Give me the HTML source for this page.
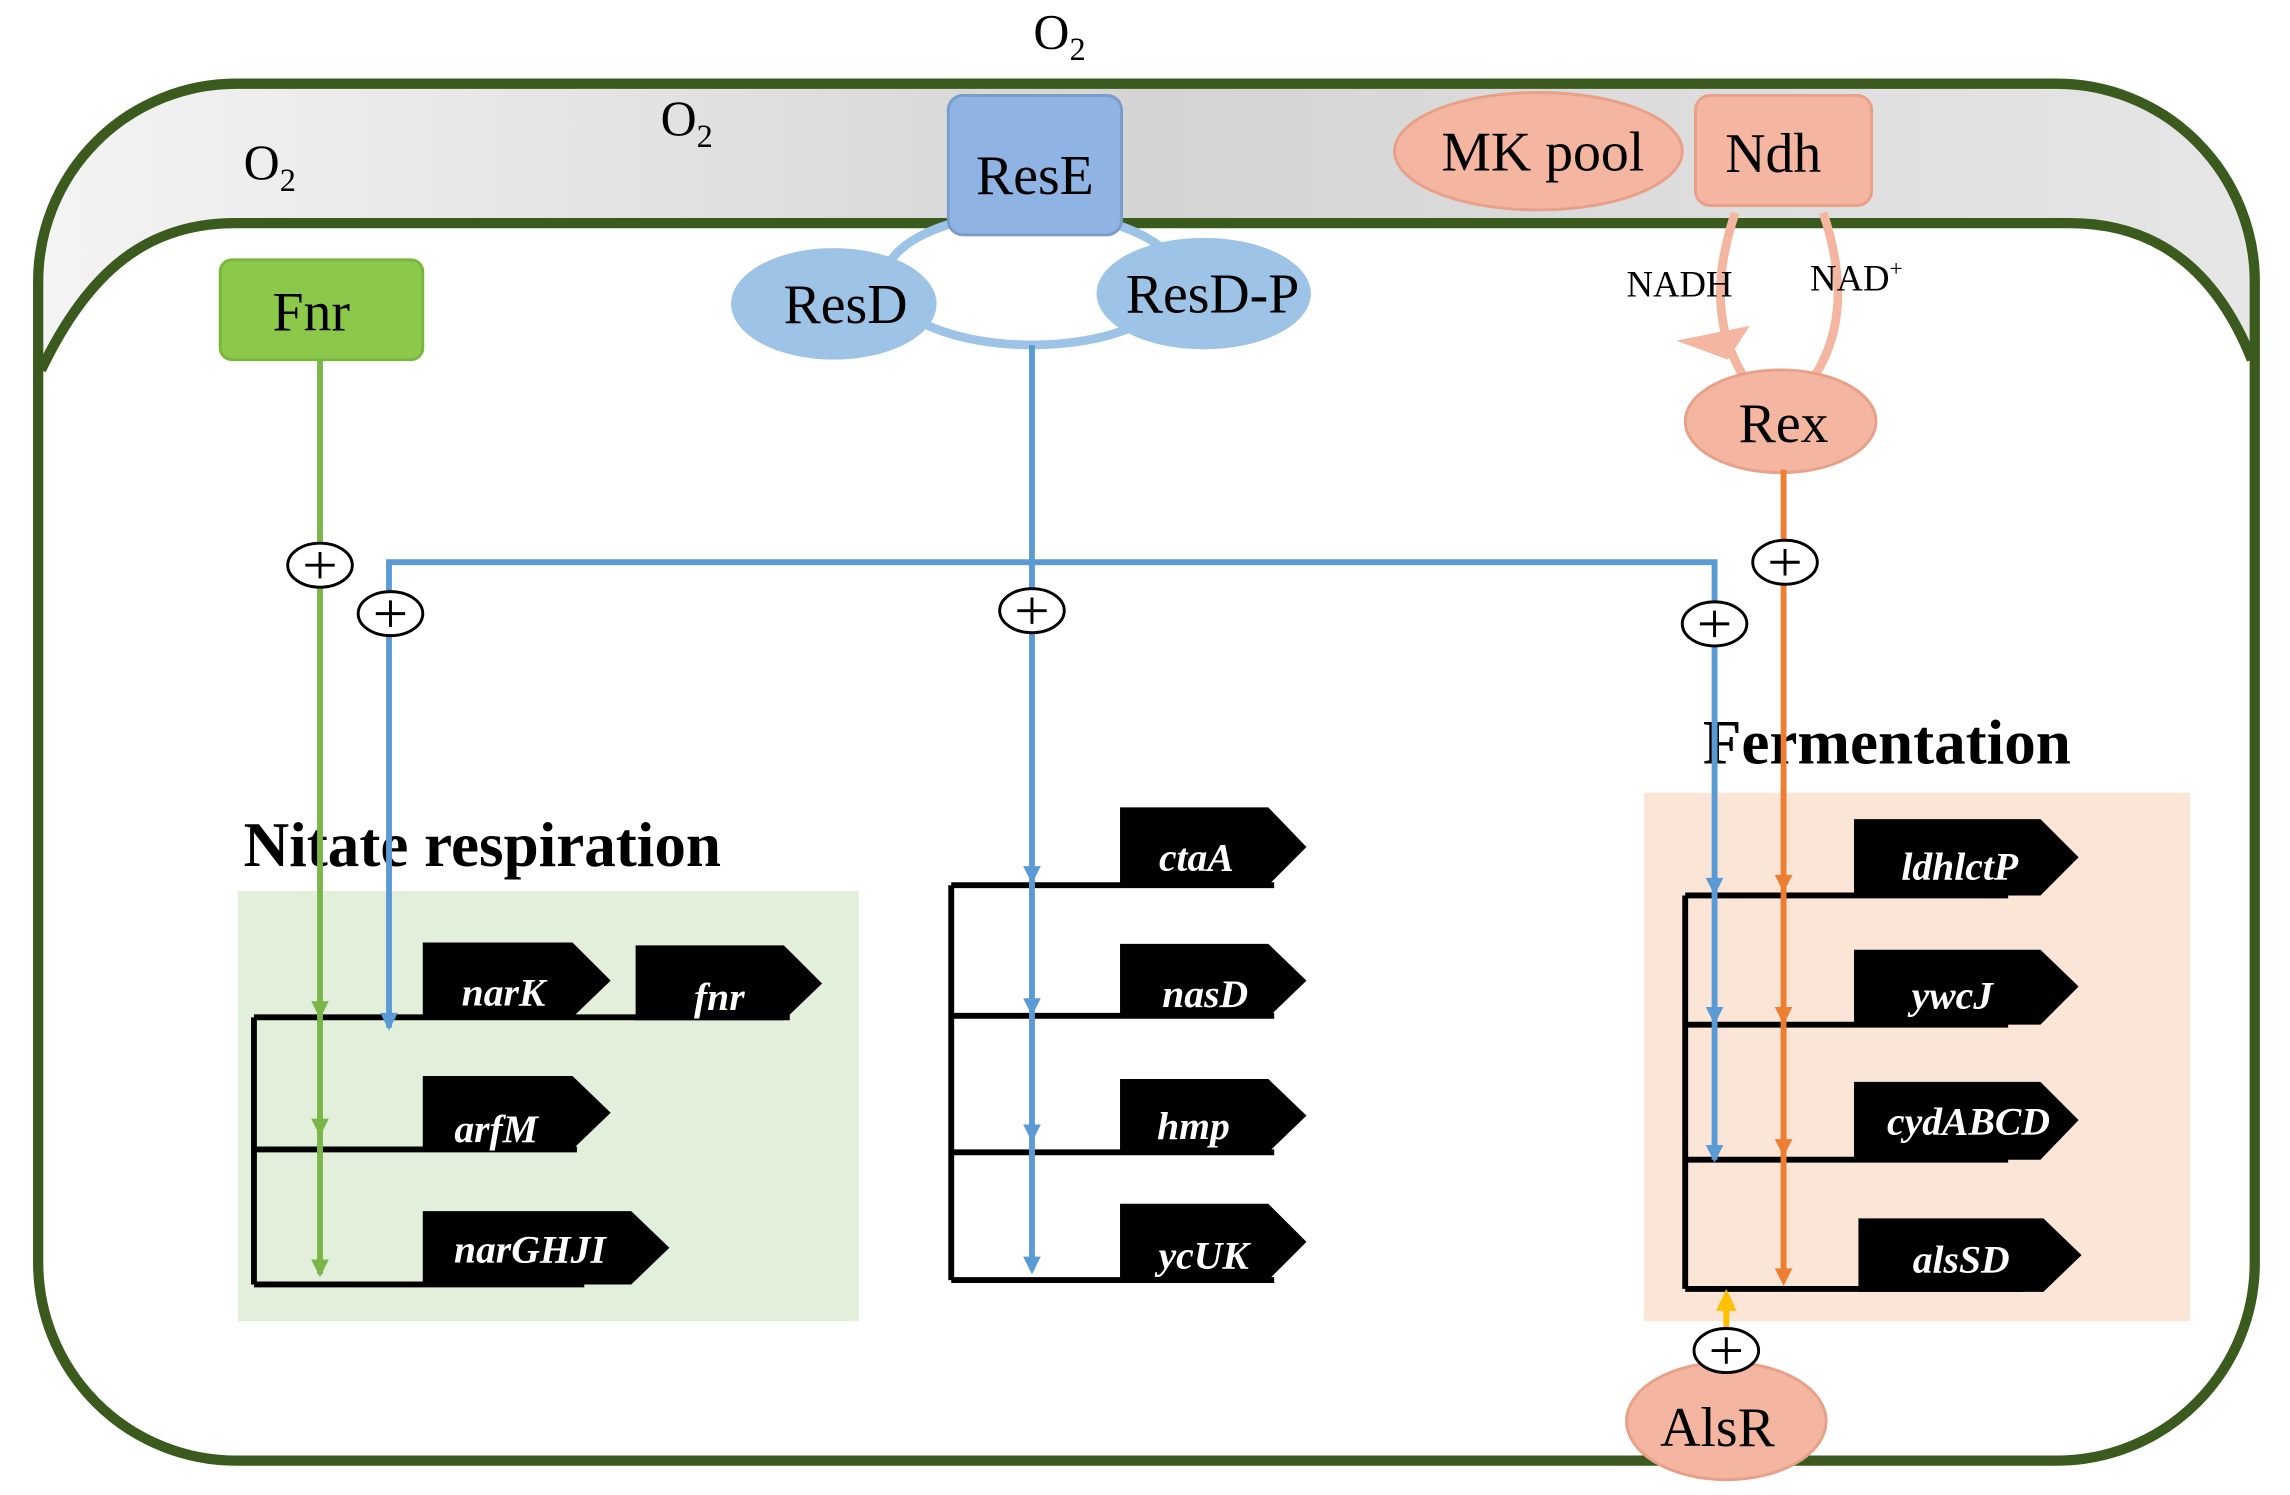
<!DOCTYPE html>
<html><head><meta charset="utf-8"><style>
html,body{margin:0;padding:0;background:#fff;}
svg{display:block;}
text{font-family:"Liberation Serif",serif;}
.g{fill:#fff;font-weight:bold;font-style:italic;font-size:27px;}
</style></head><body>
<svg width="2290" height="1495" viewBox="0 0 1560 1018.4" preserveAspectRatio="none" xmlns="http://www.w3.org/2000/svg">
<defs>
<linearGradient id="gr" x1="0" y1="0" x2="1" y2="0"><stop offset="0" stop-color="#f4f4f4"/><stop offset="0.5" stop-color="#d4d4d4"/><stop offset="1" stop-color="#e6e6e6"/></linearGradient>
</defs>
<!-- outer cell fill -->
<rect x="26" y="57" width="1510" height="938" rx="135" ry="135" fill="url(#gr)"/>
<!-- inner cytoplasm fill -->
<path d="M28,252 C60,185 100,152 160,152 L1410,152 C1470,152 1510,185 1534,245 L1534,860 A132,132 0 0 1 1400,993 L160,993 A132,132 0 0 1 28,860 Z" fill="#fff"/>
<path d="M28,252 C60,185 100,152 160,152 L1410,152 C1470,152 1510,185 1534,245" fill="none" stroke="#3a5a1e" stroke-width="7"/>
<rect x="26" y="57" width="1510" height="938" rx="135" ry="135" fill="none" stroke="#3a5a1e" stroke-width="7"/>
<!-- panels -->
<rect x="162" y="607" width="423" height="293" fill="#e2efda"/>
<rect x="1120" y="540" width="372" height="360" fill="#fbe5d6"/>
<!-- O2 labels -->
<text x="166" y="122" font-size="34">O<tspan font-size="22" dy="8">2</tspan></text>
<text x="450" y="92" font-size="34">O<tspan font-size="22" dy="8">2</tspan></text>
<text x="704" y="33" font-size="34">O<tspan font-size="22" dy="8">2</tspan></text>
<!-- Res ring -->
<ellipse cx="703" cy="190" rx="100" ry="45" fill="none" stroke="#9dc3e6" stroke-width="6"/>
<rect x="646" y="65" width="118" height="95" rx="10" fill="#8fb4e3" stroke="#7a9cc8" stroke-width="2"/>
<text x="705" y="132" font-size="38" text-anchor="middle">ResE</text>
<ellipse cx="568" cy="207" rx="70" ry="38" fill="#9dc3e6"/>
<text x="576" y="220" font-size="38" text-anchor="middle">ResD</text>
<ellipse cx="820" cy="200" rx="73" ry="38" fill="#9dc3e6"/>
<text x="826" y="213" font-size="38" text-anchor="middle">ResD-P</text>
<!-- MK pool, Ndh, Rex -->
<path d="M1182,145 C1167,190 1169,225 1187,255 M1242,145 C1257,190 1255,225 1237,255" fill="none" stroke="#f4b6a0" stroke-width="6"/>
<path d="M1142,232 L1192,222 L1177,245 Z" fill="#f4b6a0"/>
<ellipse cx="1048" cy="103" rx="98" ry="40" fill="#f4b6a0" stroke="#e8a088" stroke-width="2"/>
<text x="1051" y="116" font-size="38" text-anchor="middle">MK pool</text>
<rect x="1155" y="65" width="120" height="75" rx="10" fill="#f4b6a0" stroke="#e8a088" stroke-width="2"/>
<text x="1208" y="117" font-size="38" text-anchor="middle">Ndh</text>
<text x="1108" y="202" font-size="25">NADH</text>
<text x="1233" y="198" font-size="25">NAD<tspan font-size="16" dy="-10">+</tspan></text>
<ellipse cx="1213" cy="287" rx="65" ry="35" fill="#f4b6a0" stroke="#e8a088" stroke-width="2"/>
<text x="1215" y="301" font-size="38" text-anchor="middle">Rex</text>
<!-- Fnr -->
<rect x="150" y="177" width="138" height="68" rx="8" fill="#8cc94a" stroke="#78b63c" stroke-width="2"/>
<text x="212" y="225" font-size="38" text-anchor="middle">Fnr</text>
<!-- gene brackets -->
<g stroke="#000" stroke-width="4" fill="none">
<path d="M173,693 L173,875 M173,693 L538,693 M173,783 L393,783 M173,875 L398,875"/>
<path d="M648,603 L648,872 M648,603 L868,603 M648,692 L868,692 M648,785 L868,785 M648,872 L868,872"/>
<path d="M1148,610 L1148,878 M1148,610 L1368,610 M1148,698 L1368,698 M1148,790 L1368,790 M1148,878 L1378,878"/>
</g>
<!-- genes -->
<g fill="#000" transform="translate(-2,0)">
<polygon points="290,642 392,642 418,668 392,693 290,693"/>
<polygon points="435,644 536,644 562,670 536,695 435,695"/>
<polygon points="290,733 392,733 418,758 392,783 290,783"/>
<polygon points="290,825 432,825 458,850 432,875 290,875"/>
<polygon points="765,550 866,550 892,577 866,603 765,603"/>
<polygon points="765,643 866,643 892,668 866,693 765,693"/>
<polygon points="765,735 866,735 892,760 866,785 765,785"/>
<polygon points="765,820 866,820 892,846 866,872 765,872"/>
<polygon points="1265,558 1392,558 1418,584 1392,610 1265,610"/>
<polygon points="1265,647 1392,647 1418,672 1392,698 1265,698"/>
<polygon points="1265,737 1392,737 1418,763 1392,790 1265,790"/>
<polygon points="1268,830 1394,830 1420,855 1394,880 1268,880"/>
</g>
<g transform="translate(-2,0)">
<text class="g" x="345" y="685" text-anchor="middle">narK</text>
<text class="g" x="492" y="688" text-anchor="middle">fnr</text>
<text class="g" x="340" y="778" text-anchor="middle">arfM</text>
<text class="g" x="363" y="860" text-anchor="middle">narGHJI</text>
<text class="g" x="817" y="593" text-anchor="middle">ctaA</text>
<text class="g" x="823" y="686" text-anchor="middle">nasD</text>
<text class="g" x="815" y="776" text-anchor="middle">hmp</text>
<text class="g" x="822" y="864" text-anchor="middle">ycUK</text>
<text class="g" x="1337" y="599" text-anchor="middle">ldhlctP</text>
<text class="g" x="1332" y="687" text-anchor="middle">ywcJ</text>
<text class="g" x="1343" y="773" text-anchor="middle">cydABCD</text>
<text class="g" x="1338" y="867" text-anchor="middle">alsSD</text>
</g>
<!-- titles -->
<text x="166" y="590" font-size="43" font-weight="bold">Nitate respiration</text>
<text x="1160" y="520" font-size="43" font-weight="bold">Fermentation</text>
<!-- green line -->
<path d="M218,245 L218,868" stroke="#7ab648" stroke-width="4"/>
<g fill="#7ab648"><path d="M212,682 L224,682 L218,694 Z"/><path d="M212,762 L224,762 L218,774 Z"/><path d="M212,858 L224,858 L218,870 Z"/></g>
<!-- blue lines -->
<g stroke="#5b9bd5" stroke-width="4" fill="none">
<path d="M703,235 L703,865"/>
<path d="M265,700 L265,383 L1168,383 L1168,790"/>
</g>
<g fill="#5b9bd5">
<path d="M259,690 L271,690 L265,702 Z"/>
<path d="M697,590 L709,590 L703,602 Z"/><path d="M697,680 L709,680 L703,692 Z"/><path d="M697,766 L709,766 L703,778 Z"/><path d="M697,856 L709,856 L703,868 Z"/>
<path d="M1162,598 L1174,598 L1168,610 Z"/><path d="M1162,686 L1174,686 L1168,698 Z"/><path d="M1162,780 L1174,780 L1168,792 Z"/>
</g>
<!-- orange line -->
<path d="M1215,320 L1215,872" stroke="#ed7d31" stroke-width="4"/>
<g fill="#ed7d31">
<path d="M1209,596 L1221,596 L1215,608 Z"/><path d="M1209,686 L1221,686 L1215,698 Z"/><path d="M1209,776 L1221,776 L1215,788 Z"/><path d="M1209,864 L1221,864 L1215,876 Z"/>
</g>
<!-- yellow arrow -->
<path d="M1176,935 L1176,890" stroke="#ffc000" stroke-width="4"/>
<path d="M1169,893 L1183,893 L1176,878 Z" fill="#ffc000"/>
<!-- AlsR -->
<ellipse cx="1176" cy="968" rx="68" ry="40" fill="#f4b6a0" stroke="#e8a088" stroke-width="2"/>
<text x="1170" y="985" font-size="38" text-anchor="middle">AlsR</text>
<!-- plus circles -->
<g fill="#fff" stroke="#000" stroke-width="2">
<ellipse cx="218" cy="385" rx="22" ry="15"/>
<ellipse cx="266" cy="418" rx="22" ry="15"/>
<ellipse cx="703" cy="416" rx="22" ry="15"/>
<ellipse cx="1168" cy="425" rx="22" ry="15"/>
<ellipse cx="1216" cy="383" rx="22" ry="15"/>
<ellipse cx="1176" cy="920" rx="22" ry="15"/>
</g>
<g stroke="#000" stroke-width="2">
<path d="M208,385 L228,385 M218,376 L218,394"/>
<path d="M256,418 L276,418 M266,409 L266,427"/>
<path d="M693,416 L713,416 M703,407 L703,425"/>
<path d="M1158,425 L1178,425 M1168,416 L1168,434"/>
<path d="M1206,383 L1226,383 M1216,374 L1216,392"/>
<path d="M1166,920 L1186,920 M1176,911 L1176,929"/>
</g>
</svg>
</body></html>
